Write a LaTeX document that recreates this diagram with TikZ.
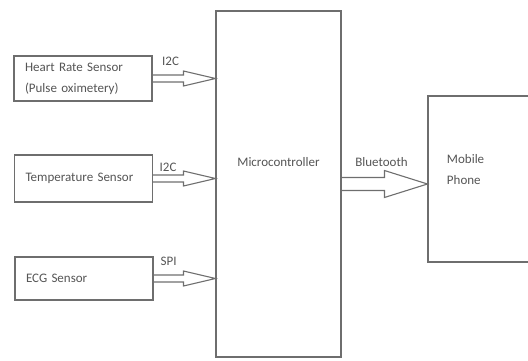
\documentclass[tikz,border=0pt]{standalone}
\usepackage{fontspec}
\setmainfont{Carlito}
\usepackage{xcolor}
\usetikzlibrary{calc}
\definecolor{LineGrey}{HTML}{6E6E6E}
\definecolor{TextGrey}{HTML}{555555}

% hollow block arrow: from node, to node, shaft half height, head half height, head length
\newcommand{\fatarrow}[5]{%
  \draw[conn] let \p1=(#1.east), \p2=(#2.west |- #1.east) in
    (\x1,\y1+#3) -- (\x2-#5,\y1+#3) -- (\x2-#5,\y1+#4) -- (\p2)
    -- (\x2-#5,\y1-#4) -- (\x2-#5,\y1-#3) -- (\x1,\y1-#3);
}

\begin{document}
\begin{tikzpicture}[x=1pt,y=1pt,font=\fontsize{13}{21}\selectfont,text=TextGrey,
  box/.style={draw=LineGrey,line width=1.1pt,fill=white,inner xsep=11pt,align=left},
  sensor/.style={box,text width=116pt,minimum height=45pt},
  conn/.style={draw=LineGrey,line width=1.1pt,line join=miter},
  lbl/.style={inner sep=1pt}]
  \clip (0,0) rectangle (528,360);
  \node[sensor,minimum height=45pt] (heart) at (83,281.5) {Heart Rate Sensor\\(Pulse oximetery)};
  \node[sensor,minimum height=47pt] (temp) at (83.5,181.5) {Temperature Sensor};
  \node[sensor,minimum height=43pt] (ecg) at (84,81.5) {ECG Sensor};
  \node[box,minimum width=125pt,minimum height=346pt,
    label={[yshift=22pt]center:Microcontroller}] (mcu) at (278.5,176) {};
  \node[box,minimum width=120pt,minimum height=166pt,
    label={[anchor=north west,align=left,xshift=16pt,yshift=-55pt]north west:Mobile\\Phone}] (phone) at (488,181) {};
  % connectors
  \fatarrow{heart}{mcu}{3.5}{7.5}{32}
  \fatarrow{temp}{mcu}{3.5}{7.5}{32}
  \fatarrow{ecg}{mcu}{3.5}{7.5}{32}
  \fatarrow{mcu}{phone}{6.5}{13.5}{43}
  \node[lbl] (bus1) at ($(heart.east)+(18,17)$) {I2C};
  \node[lbl] (bus2) at ($(temp.east)+(15,11)$) {I2C};
  \node[lbl] (bus3) at ($(ecg.east)+(15,17)$) {SPI};
  \node[lbl] (bt) at ($(mcu.east)+(40,22)$) {Bluetooth};
\end{tikzpicture}
\end{document}
